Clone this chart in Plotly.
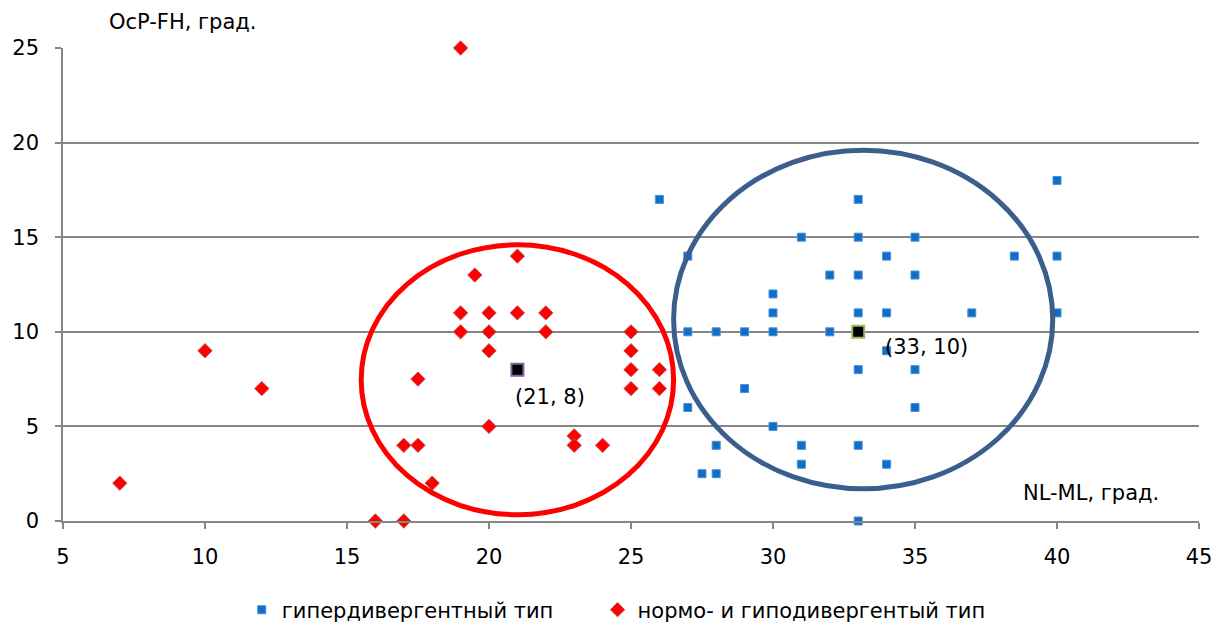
import plotly.graph_objects as go

# NL-ML (x) and OcP-FH (y), degrees — hyperdivergent group
hyper_x = [26, 33, 40, 31, 33, 35, 27, 34, 38.5, 40, 32, 33, 35, 30,
           30, 33, 34, 37, 40, 27, 28, 29, 30, 32, 33, 34, 33, 35,
           29, 27, 35, 30, 28, 31, 33, 31, 34, 27.5, 28, 33]
hyper_y = [17, 17, 18, 15, 15, 15, 14, 14, 14, 14, 13, 13, 13, 12,
           11, 11, 11, 11, 11, 10, 10, 10, 10, 10, 10, 9, 8, 8,
           7, 6, 6, 5, 4, 4, 4, 3, 3, 2.5, 2.5, 0]

# normo- and hypodivergent group
normo_x = [19, 21, 19.5, 19, 20, 21, 22, 19, 20, 22, 25, 10, 20, 25,
           25, 26, 12, 17.5, 25, 26, 20, 23, 17, 17.5, 23, 24, 7, 18,
           16, 17]
normo_y = [25, 14, 13, 11, 11, 11, 11, 10, 10, 10, 10, 9, 9, 9,
           8, 8, 7, 7.5, 7, 7, 5, 4.5, 4, 4, 4, 4, 2, 2,
           0, 0]

# group centres
centre_normo = (21, 8)
centre_hyper = (33, 10)

# ellipses outlining the groups (data units: x0, x1, y0, y1)
ellipse_normo = (15.5, 26.5, 0.33, 14.6)
ellipse_hyper = (26.5, 39.85, 1.7, 19.6)

x_ticks = [5, 10, 15, 20, 25, 30, 35, 40, 45]
y_ticks = [0, 5, 10, 15, 20, 25]

FONT = "DejaVu Sans"
FS = 21

fig = go.Figure()

fig.add_trace(go.Scatter(
    x=hyper_x, y=hyper_y, mode="markers", name="гипердивергентный тип",
    cliponaxis=False, legend="legend",
    marker=dict(symbol="square", size=8, color="#0F6FC6",
                line=dict(color="#4A8FD8", width=1)),
))
fig.add_trace(go.Scatter(
    x=normo_x, y=normo_y, mode="markers", name="нормо- и гиподивергентый тип",
    cliponaxis=False, legend="legend2",
    marker=dict(symbol="diamond", size=11, color="#FF0000",
                line=dict(color="#C0504D", width=1)),
))

# centre markers
fig.add_trace(go.Scatter(
    x=[centre_normo[0]], y=[centre_normo[1]], mode="markers", showlegend=False,
    marker=dict(symbol="square", size=12, color="#000000",
                line=dict(color="#8064A2", width=2)),
))
fig.add_trace(go.Scatter(
    x=[centre_hyper[0]], y=[centre_hyper[1]], mode="markers", showlegend=False,
    marker=dict(symbol="square", size=12, color="#000000",
                line=dict(color="#9BBB59", width=2)),
))

for (cx, cy), xs, ys in [(centre_normo, -4, -13), (centre_hyper, 25, -1)]:
    fig.add_annotation(
        x=cx, y=cy, text=f"({cx}, {cy})", showarrow=False,
        xanchor="left", yanchor="top", xshift=xs, yshift=ys,
        font=dict(family=FONT, size=FS, color="#000000"),
    )

for (x0, x1, y0, y1), col in [(ellipse_normo, "#FF0000"), (ellipse_hyper, "#3B5E8C")]:
    fig.add_shape(type="circle", xref="x", yref="y", x0=x0, x1=x1, y0=y0, y1=y1,
                  line=dict(color=col, width=5), layer="above")

# axis titles
fig.add_annotation(xref="paper", yref="paper", x=0.039, y=1.0, yshift=26,
                   text="OcP-FH, град.", showarrow=False, xanchor="left",
                   yanchor="middle", font=dict(family=FONT, size=FS, color="#000000"))
fig.add_annotation(x=43.65, y=1.5, text="NL-ML, град.", showarrow=False,
                   xanchor="right", yanchor="middle",
                   font=dict(family=FONT, size=FS, color="#000000"))

fig.update_xaxes(
    range=[5, 45], tickvals=x_ticks, showgrid=False, zeroline=False,
    showline=True, linecolor="#868686", linewidth=1.5,
    ticks="outside", ticklen=6, tickcolor="#868686", tickwidth=1.5,
    ticklabelstandoff=10, tickfont=dict(family=FONT, size=FS, color="#000000"),
)
fig.update_yaxes(
    range=[0, 25], tickvals=y_ticks, showgrid=True, gridcolor="#868686",
    gridwidth=1.5, zeroline=False,
    showline=True, linecolor="#868686", linewidth=1.5,
    ticks="outside", ticklen=6, tickcolor="#868686", tickwidth=1.5,
    ticklabelstandoff=12, tickfont=dict(family=FONT, size=FS, color="#000000"),
)

legend_style = dict(orientation="h", xref="container", yref="container",
                    y=0.027, yanchor="middle", xanchor="left",
                    font=dict(family=FONT, size=FS), itemwidth=30)

fig.update_layout(
    width=1227, height=627,
    margin=dict(l=63, r=28, t=48, b=106, autoexpand=False),
    plot_bgcolor="#FFFFFF", paper_bgcolor="#FFFFFF",
    font=dict(family=FONT, size=FS, color="#000000"),
    legend=dict(x=0.197, **legend_style),
    legend2=dict(x=0.487, **legend_style),
)

fig.write_html("out.html")
